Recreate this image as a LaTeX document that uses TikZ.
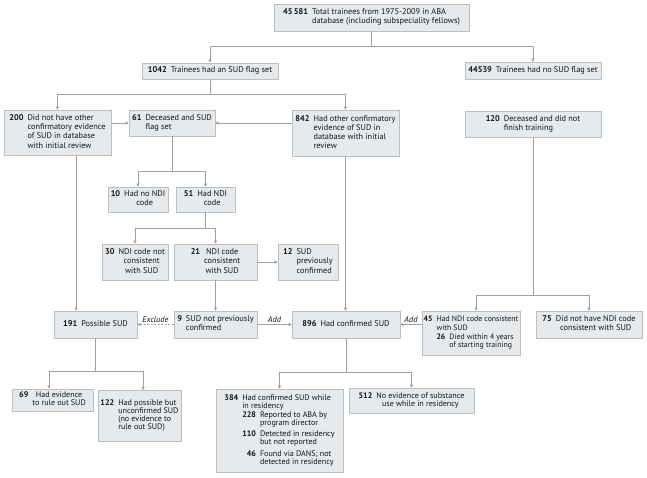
\documentclass[tikz,border=0pt]{standalone}
\usepackage{fontspec}
\setmainfont{PT Sans}
\usetikzlibrary{arrows.meta,calc}
\definecolor{boxfill}{RGB}{230,234,237}
\definecolor{boxline}{RGB}{185,192,197}
\definecolor{conn}{RGB}{160,160,160}
\definecolor{txt}{RGB}{20,20,20}
\newcommand{\nb}[3][l]{\begin{tabular}[t]{@{}r@{\hspace{4pt}}l@{}}\textbf{#2}&\begin{tabular}[t]{@{}#1@{}}#3\end{tabular}\end{tabular}}
\tikzset{
  box/.style={draw=boxline, fill=boxfill, line width=0.6pt, inner sep=0pt, text=txt,
    font=\fontsize{8.3}{9.2}\selectfont},
  tight/.style={font=\fontsize{8.1}{8}\selectfont},
  snug/.style={font=\fontsize{7.8}{8.6}\selectfont},
  ln/.style={draw=conn, line width=0.6pt},
  arr/.style={ln, -{Triangle[length=3pt,width=3pt]}},
  lab/.style={font=\fontsize{8.3}{9}\selectfont\itshape, text=txt, inner sep=1pt}
}
\begin{document}
\begin{tikzpicture}[x=1pt,y=-1pt]
\fill[white] (0,0) rectangle (647,477);
\useasboundingbox (0,0) rectangle (647,477);

% boxes
\node[box, minimum width=195pt, minimum height=27pt] (top) at (371.5,17.5)
  {\nb{45\,581}{Total trainees from 1975-2009 in ABA\\database (including subspeciality fellows)}};
\node[box, minimum width=136pt, minimum height=16pt] (b1042) at (210,71)
  {\nb{1042}{Trainees had an SUD flag set}\hspace{6pt}};
\node[box, minimum width=136pt, minimum height=17pt] (b44539) at (533,70.5)
  {\nb{44539}{Trainees had no SUD flag set}};
\node[box, minimum width=107pt, minimum height=45pt] (b200) at (57.5,132.5)
  {\nb{200}{Did not have other\\confirmatory evidence\\of SUD in database\\with initial review}};
\node[box, minimum width=86pt, minimum height=26pt] (b61) at (172,123)
  {\nb{61}{Deceased and SUD\\flag set}};
\node[box, minimum width=107pt, minimum height=46pt] (b842) at (345.5,133)
  {\nb{842}{Had other confirmatory\\evidence of SUD in\\database with initial\\review}};
\node[box, minimum width=136pt, minimum height=26pt] (b120) at (533,124)
  {\nb{120}{Deceased and did not\\finish training}};
\node[box, minimum width=60pt, minimum height=25pt] (b10) at (138,199.5)
  {\nb[c]{10}{Had no NDI\\code}};
\node[box, minimum width=59pt, minimum height=25pt] (b51) at (205.5,199.5)
  {\nb[c]{51}{Had NDI\\code}};
\node[box, minimum width=66pt, minimum height=36pt] (b30) at (135,262)
  {\nb[c]{30}{NDI code not\\consistent\\with SUD}};
\node[box, minimum width=83pt, minimum height=36pt] (b21) at (215.5,262)
  {\nb[c]{21}{NDI code\\consistent\\with SUD}};
\node[box, minimum width=60pt, minimum height=36pt] (b12) at (308,262)
  {\nb{12}{SUD\\previously\\confirmed}};
\node[box, minimum width=83pt, minimum height=27pt] (b191) at (95.5,324.5)
  {\nb{191}{Possible SUD}};
\node[box, minimum width=83pt, minimum height=27pt] (b9) at (215.5,324.5)
  {\nb{9}{SUD not previously\\confirmed}};
\node[box, minimum width=108pt, minimum height=27pt] (b896) at (346,324.5)
  {\nb{896}{Had confirmed SUD}};
\node[box, snug, minimum width=98pt, minimum height=44pt] (b45) at (471,333)
  {\nb{45}{Had NDI code consistent\\with SUD\\
   \begin{tabular}[t]{@{}r@{\hspace{4pt}}l@{}}\textbf{26}&Died within 4 years\\&of starting training\end{tabular}}};
\node[box, minimum width=106pt, minimum height=27pt] (b75) at (589,324.5)
  {\nb[c]{75}{Did not have NDI code\\consistent with SUD}};
\node[box, tight, minimum width=81pt, minimum height=22pt] (b69) at (52.5,400)
  {\nb[c]{69}{Had evidence\\to rule out SUD}};
\node[box, tight, minimum width=83pt, minimum height=51pt] (b122) at (139.5,416)
  {\nb{122}{Had possible but\\unconfirmed SUD\\(no evidence to\\rule out SUD)}};
\node[box, tight, minimum width=127pt, minimum height=83pt] (b384) at (279.5,430.5)
  {\nb{384}{Had confirmed SUD while\\in residency\\[1pt]
   \begin{tabular}[t]{@{}r@{\hspace{4pt}}l@{}}\textbf{228}&Reported to ABA by\\&program director\\[3pt]
   \textbf{110}&Detected in residency\\&but not reported\\[3pt]
   \textbf{46}&Found via DANS; not\\&detected in residency\end{tabular}}};
\node[box, tight, minimum width=125pt, minimum height=25pt] (b512) at (411.5,400.5)
  {\nb[c]{512}{No evidence of substance\\use while in residency}};

% junctions
\coordinate (j1) at (371.5,46);
\coordinate (j2) at (210,94);
\coordinate (j3) at (172,171.5);
\coordinate (j4) at (205.5,228);
\coordinate (j5) at (533,295);
\coordinate (j6) at (95.5,371.5);
\coordinate (j7) at (346,372);

% connectors
\draw[ln] (top.south) -- (j1);
\draw[arr] (j1) -| (b1042.north);
\draw[arr] (j1) -| (b44539.north);
\draw[ln] (b1042.south) -- (j2);
\draw[arr] (j2) -| (b200.north);
\draw[arr] (j2) -| (b842.north);
\draw[arr] (b200.east |- b61.west) -- (b61.west);
\draw[arr] (b842.west |- b61.east) -- (b61.east);
\draw[ln] (b61.south) -- (j3);
\draw[arr] (j3) -| (b10.north);
\draw[arr] (j3) -| (b51.north);
\draw[ln] (b51.south) -- (j4);
\draw[arr] (j4) -| (b30.north);
\draw[arr] (j4) -| (b21.north);
\draw[arr] (b21.east |- b12.west) -- (b12.west);
\draw[arr] (b21.south) -- (b9.north);
\draw[arr, dashed, dash pattern=on 2pt off 1.5pt] (b9.west) -- node[lab, above=1pt] {Exclude} (b191.east);
\draw[arr] (b9.east) -- node[lab, above=1pt] {Add} (b896.west);
\draw[arr] (b45.west |- b896.east) -- node[lab, above=1pt] {Add} (b896.east);
\draw[arr] ([xshift=18.5pt]b200.south) -- ([xshift=18.5pt]b200.south |- b191.north);
\draw[arr] (b842.south) -- (b842.south |- b896.north);
\draw[ln] (b120.south) -- (j5);
\draw[arr] (j5) -| ([xshift=5pt]b45.north);
\draw[arr] (j5) -| (b75.north);
\draw[ln] (b191.south) -- (j6);
\draw[arr] (j6) -| ([xshift=-3.5pt]b69.north);
\draw[arr] (j6) -| ([xshift=3.5pt]b122.north);
\draw[ln] (b896.south) -- (j7);
\draw[arr] (j7) -| (b384.north);
\draw[arr] (j7) -| (b512.north);
\end{tikzpicture}
\end{document}
